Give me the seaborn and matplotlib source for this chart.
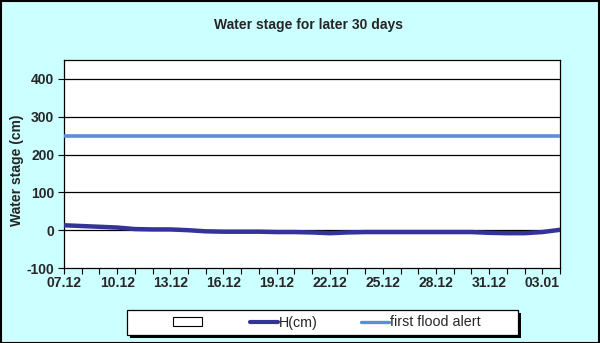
import matplotlib
matplotlib.use("Agg")
import matplotlib.pyplot as plt
import matplotlib.patches as mpatches
import seaborn as sns
import pandas as pd

# ---- data ----
dates = ["07.12", "08.12", "09.12", "10.12", "11.12", "12.12", "13.12", "14.12",
         "15.12", "16.12", "17.12", "18.12", "19.12", "20.12", "21.12", "22.12",
         "23.12", "24.12", "25.12", "26.12", "27.12", "28.12", "29.12", "30.12",
         "31.12", "01.01", "02.01", "03.01", "04.01"]
h_cm = [13, 11, 9, 7, 3, 2, 2, 0, -3, -4, -4, -4, -5, -5, -6, -8,
        -6, -5, -5, -5, -5, -5, -5, -5, -7, -8, -8, -5, 1]
flood_alert = [250] * len(dates)
y_ticks = [-100, 0, 100, 200, 300, 400]
title = "Water stage for later 30 days"
y_label = "Water stage (cm)"

sns.set_theme(style="white")
plt.rcParams["font.family"] = ["Liberation Sans", "DejaVu Sans"]

BG = "#CCFFFF"
H_COLOR = "#333399"
ALERT_COLOR = "#5B8ED8"
FS = 10

df = pd.DataFrame({"day": range(len(dates)), "H": h_cm, "alert": flood_alert})

W, H = 600, 343
fig = plt.figure(figsize=(6.0, 3.43), dpi=100, facecolor=BG)
ax = fig.add_axes([64 / W, 1 - 268 / H, 496 / W, 208 / H])
ax.set_facecolor("white")

for v in y_ticks[1:]:
    ax.axhline(v, color="black", linewidth=0.9, zorder=1)

sns.lineplot(data=df, x="day", y="alert", ax=ax, color=ALERT_COLOR, linewidth=2.6, zorder=3)
sns.lineplot(data=df, x="day", y="H", ax=ax, color=H_COLOR, linewidth=3.2, zorder=4)

ax.set_xlim(0, len(dates) - 1)
ax.set_ylim(-100, 450)
ax.set_yticks(y_ticks)
ax.set_yticklabels([str(v) for v in y_ticks], fontsize=FS, fontweight="bold")
ax.set_xticks(range(len(dates)), minor=True)
major_idx = list(range(0, len(dates) - 1, 3))
ax.set_xticks(major_idx)
ax.set_xticklabels([dates[i] for i in major_idx], fontsize=FS, fontweight="bold")
ax.tick_params(axis="x", which="both", direction="out", length=4, width=0.8, color="black", pad=2, bottom=True)
ax.tick_params(axis="y", direction="out", length=4, width=0.8, color="black", pad=3, left=True)
ax.set_xlabel("")
ax.set_ylabel(y_label, fontsize=FS, fontweight="bold")
ax.yaxis.set_label_coords((24 - 64) / 496, (268 - 170) / 208)
for s in ax.spines.values():
    s.set_color("black")
    s.set_linewidth(0.9)
    s.set_visible(True)

fig.text(308 / W, 1 - 25 / H, title, ha="center", va="center", fontsize=10, fontweight="bold")

# legend box with shadow
lx0, lx1, ly0, ly1 = 127, 518, 310, 335
fig.patches.append(mpatches.Rectangle(((lx0 + 3) / W, 1 - (ly1 + 3) / H), (lx1 - lx0) / W, (ly1 - ly0) / H,
                                      transform=fig.transFigure, facecolor="black", edgecolor="none", zorder=1))
fig.patches.append(mpatches.Rectangle((lx0 / W, 1 - ly1 / H), (lx1 - lx0) / W, (ly1 - ly0) / H,
                                      transform=fig.transFigure, facecolor="white", edgecolor="black",
                                      linewidth=0.9, zorder=2))

handles = [
    mpatches.Rectangle((0, 0), 1, 1, facecolor="white", edgecolor="black", linewidth=0.8),
    plt.Line2D([], [], color=H_COLOR, linewidth=3),
    plt.Line2D([], [], color=ALERT_COLOR, linewidth=2.4),
]
labels = [" ", "H(cm)", "first flood alert"]
leg = fig.legend(handles, labels, loc="center left", ncol=3,
                 bbox_to_anchor=(162 / W, 1 - 322.5 / H),
                 frameon=False, fontsize=10.3,
                 handlelength=2.0, handleheight=0.6, handletextpad=0.05,
                 columnspacing=3.0, borderpad=0.3)
leg.set_zorder(5)

fig.patches.append(mpatches.Rectangle((0.001, 0.001), 0.997, 0.996, transform=fig.transFigure,
                                      fill=False, edgecolor="black", linewidth=1.5))

fig.savefig("out.png", dpi=100, facecolor=BG)
